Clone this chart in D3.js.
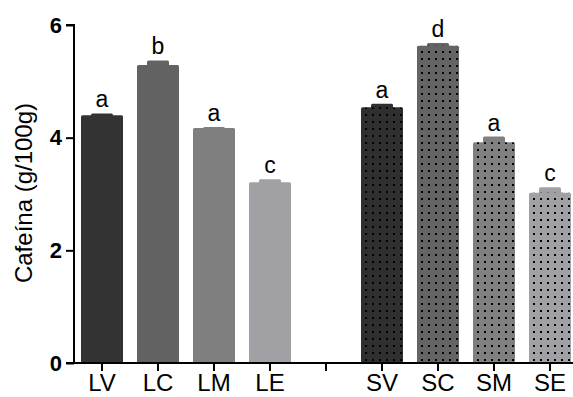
<!DOCTYPE html>
<html>
<head>
<meta charset="utf-8">
<script src="https://cdn.jsdelivr.net/npm/d3@7"></script>
<style>
  body { margin: 0; background: #fff; }
  svg { display: block; font-family: "Liberation Sans", Arial, sans-serif; }
</style>
</head>
<body>
<svg id="chart" width="573" height="397"></svg>
<script>
// categories ('' is the empty gap slot between the two groups)
const categories = ['LV', 'LC', 'LM', 'LE', '', 'SV', 'SC', 'SM', 'SE'];
const means = [4.40, 5.29, 4.17, 3.21, null, 4.54, 5.63, 3.92, 3.02];
const errors = [0.03, 0.08, 0.02, 0.05, null, 0.06, 0.05, 0.10, 0.10];
const letters = ['a', 'b', 'a', 'c', '', 'a', 'd', 'a', 'c'];
const dotted = [false, false, false, false, false, true, true, true, true];
const yTicks = [0, 2, 4, 6];

const fills = ['#333333', '#626262', '#7f7f7f', '#a1a1a5', '#fff', '#2f2f2f', '#646464', '#808080', '#a1a1a5'];

const svg = d3.select('#chart');
const cs = {
  left: 74,
  top: 25,
  bottom: 363,
  step: 56,
};

const x = d3.scaleBand()
  .domain(d3.range(categories.length))
  .range([cs.left, cs.left + cs.step * categories.length])
  .paddingInner(0.25)
  .paddingOuter(0.125);

const y = d3.scaleLinear().domain([0, 6]).range([cs.bottom, cs.top]);

// dot patterns for the S bars
const defs = svg.append('defs');
categories.forEach((c, i) => {
  if (!dotted[i]) return;
  const p = defs.append('pattern')
    .attr('id', `dots${i}`)
    .attr('patternUnits', 'userSpaceOnUse')
    .attr('width', 7)
    .attr('height', 7)
    .attr('x', x(i) + 2)
    .attr('y', 0);
  p.append('rect').attr('width', 7).attr('height', 7).attr('fill', fills[i]);
  p.append('rect').attr('x', 2).attr('y', 2).attr('width', 2).attr('height', 2).attr('fill', '#000');
});

const data = categories.map((c, i) => ({ i, c, m: means[i], e: errors[i], l: letters[i] }))
  .filter(d => d.m !== null);

// error bars (drawn as a small cap block on top of the bar)
svg.selectAll('rect.err').data(data).enter().append('rect')
  .attr('class', 'err')
  .attr('x', d => x(d.i) + x.bandwidth() / 2 - 11)
  .attr('width', 22)
  .attr('y', d => y(d.m + d.e))
  .attr('height', d => y(d.m) - y(d.m + d.e) + 2)
  .attr('rx', 1.5)
  .attr('fill', d => fills[d.i]);

svg.selectAll('rect.bar').data(data).enter().append('rect')
  .attr('class', 'bar')
  .attr('x', d => x(d.i))
  .attr('width', x.bandwidth())
  .attr('y', d => y(d.m))
  .attr('height', d => y(0) - y(d.m))
  .attr('rx', 1.5)
  .attr('fill', d => dotted[d.i] ? `url(#dots${d.i})` : fills[d.i]);

svg.selectAll('text.sig').data(data).enter().append('text')
  .attr('class', 'sig')
  .attr('x', d => x(d.i) + x.bandwidth() / 2)
  .attr('y', d => y(d.m + d.e) - 6)
  .attr('text-anchor', 'middle')
  .attr('font-size', 23)
  .attr('fill', '#000')
  .text(d => d.l);

// y axis
const yAxis = d3.axisLeft(y).tickValues(yTicks).tickSize(8).tickPadding(4).tickFormat(d3.format('d'));
const gy = svg.append('g').attr('transform', `translate(${cs.left},0)`).call(yAxis);
gy.select('.domain').attr('stroke', '#000').attr('stroke-width', 2).attr('d', `M-8,${cs.top}H0V${cs.bottom}`);
gy.selectAll('.tick line').attr('stroke-width', 2);
gy.selectAll('.tick text').attr('font-size', 22).attr('font-weight', 'bold').attr('fill', '#000')
  .attr('font-family', '"Liberation Sans", Arial, sans-serif');

// x axis
const xAxis = d3.axisBottom(x).tickSize(8).tickPadding(3).tickFormat(i => categories[i]);
const gx = svg.append('g').attr('transform', `translate(0,${cs.bottom})`).call(xAxis);
gx.select('.domain').attr('stroke', '#000').attr('stroke-width', 2)
  .attr('d', `M${cs.left - 8},0H573`);
gx.selectAll('.tick line').attr('stroke-width', 2);
gx.selectAll('.tick text').attr('font-size', 24).attr('fill', '#000')
  .attr('font-family', '"Liberation Sans", Arial, sans-serif');

// y title
svg.append('text')
  .attr('transform', `translate(31.5,${(cs.top + cs.bottom) / 2 - 1}) rotate(-90)`)
  .attr('text-anchor', 'middle')
  .attr('font-size', 24)
  .attr('fill', '#000')
  .text('Cafeína (g/100g)');
</script>
</body>
</html>
